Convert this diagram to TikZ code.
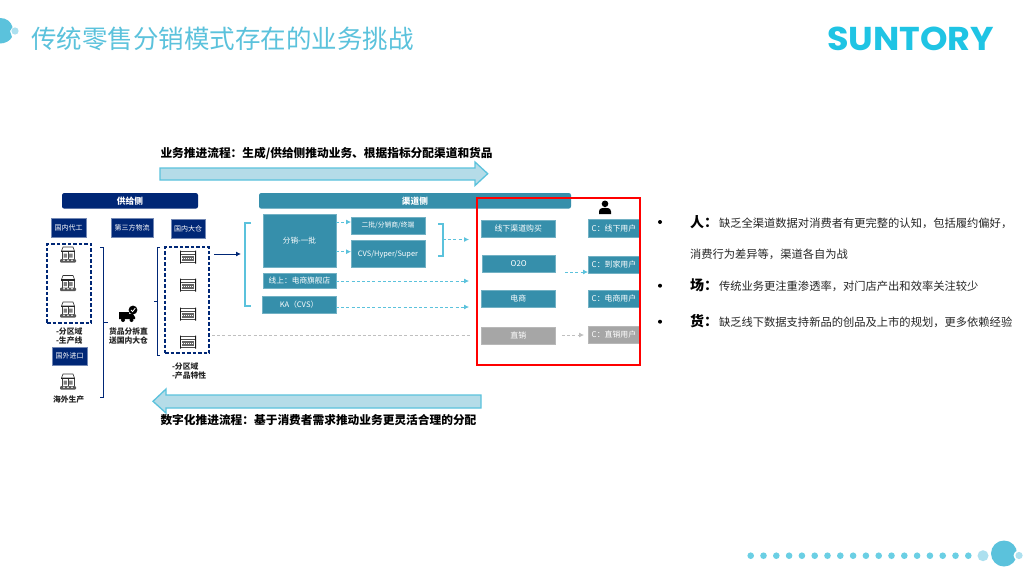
\documentclass[tikz,border=0pt]{standalone}
\usepackage{fontspec}
\setmainfont{Noto Sans CJK SC}
\newfontfamily\logofont{Poppins}
\usetikzlibrary{arrows.meta}
\definecolor{navy}{HTML}{002776}
\definecolor{tealc}{HTML}{368FAB}
\definecolor{sky}{HTML}{5BC2DC}
\definecolor{skyfill}{HTML}{B5DCE8}
\definecolor{dotblue}{HTML}{6BCFE4}
\definecolor{paleblue}{HTML}{ACE0EF}
\definecolor{logoblue}{HTML}{1FC4E4}
\definecolor{greybox}{HTML}{A6A6A6}
\newcommand\fs[1]{\fontsize{#1}{#1}\selectfont}
\tikzset{
  x=1pt,y=-1pt,
  every node/.style={inner sep=0pt,outer sep=0pt},
  cbox/.style={anchor=north west,align=center,text=white,font=\fs{7.9}},
  navybox/.style={cbox,fill=navy,draw=navy!55!white,line width=.5pt,font=\fs{7}},
  tealbox/.style={cbox,fill=tealc,draw=tealc!70!white,line width=.5pt},
  greyb/.style={cbox,fill=greybox,draw=greybox!80!white,line width=.5pt},
  headbar/.style={cbox,fill=#1,rounded corners=2.2pt,font=\fs{8.7}\bfseries},
  dashbox/.style={draw=navy,line width=1.2pt,dash pattern=on 3.5pt off 2pt},
  navybr/.style={draw=navy,line width=1pt},
  skybr/.style={draw=sky,line width=1.2pt},
  dasharrow/.style={draw=sky,line width=.8pt,dash pattern=on 3pt off 2.2pt,-{Latex[length=5pt,width=5pt]}},
  greydash/.style={draw=black!25,line width=.6pt,dash pattern=on 3pt off 2.2pt},
  flowarrow/.style={draw=sky,fill=skyfill,line width=1.3pt},
  captext/.style={font=\fs{7.8}\bfseries,align=left,text=black!85},
  headtext/.style={font=\fs{11.7}\bfseries,anchor=west,text=black},
  bodytext/.style={font=\fs{11.28},anchor=west,text=black!85},
  bigtext/.style={font=\fs{14}\bfseries,anchor=west,text=black},
  bulletdot/.style={circle,fill=black,minimum size=4pt},
  factory/.pic={
    \draw[black!80,line width=.6pt] (-5,-8) -- (5,-8) -- (6.5,-4) -- (-6.5,-4) -- cycle;
    \fill[black!85] (-7,-4.5) rectangle (7,-2.8);
    \draw[black!75,line width=.7pt] (-6,-2.8) -- (-6,4.5) (6,-2.8) -- (6,4.5) (0,-2.8) -- (0,4.5);
    \fill[black!50] (-4.5,-1.5) rectangle (-1.2,2.5) (1.2,-1.5) rectangle (4.5,2.5);
    \fill[black!65,rounded corners=1pt] (-8,4.2) rectangle (8,7.6);
    \fill[white] (-4,5.2) circle (.8) (0,5.2) circle (.8) (4,5.2) circle (.8);
  },
  store/.pic={
    \fill[black!90] (-8,-6.5) rectangle (-7.2,6.5) (7.2,-6.5) rectangle (8,6.5);
    \draw[black!70,line width=.7pt] (-7,-5.6) -- (7,-5.6) (-7,-2.6) -- (7,-2.6) (-7,5.2) -- (7,5.2);
    \fill[black!60] (-6.3,-1) rectangle (6.3,3.8);
    \draw[white,line width=.5pt,dash pattern=on 1pt off 1pt] (-6.3,1.2) -- (6.3,1.2);
  },
  truck/.pic={
    \fill[black] (-9,-3) rectangle (1,4) (1,-1) -- (5,-1) -- (7,2) -- (7,4) -- (1,4) -- cycle;
    \fill[black] (-5,5) circle (2) (3.5,5) circle (2);
    \fill[black] (5,-5) circle (4.4);
    \draw[white,line width=.8pt] (3,-5) -- (4.6,-3.4) -- (7.2,-6.8);
  },
  person/.pic={
    \fill[black] (0,-3.2) circle (3.3);
    \fill[black] (-6,7) -- (-6,4.5) .. controls (-5.5,1) and (-3,.8) .. (0,.8) .. controls (3,.8) and (5.5,1) .. (6,4.5) -- (6,7) -- cycle;
  }
}
\begin{document}
\begin{tikzpicture}
\useasboundingbox[fill=white] (0,0) rectangle (1024,576);
% top-left mark
\fill[sky] (0,18) .. controls (7,18) and (11,22) .. (12.5,27) -- (10,31) -- (12,37) .. controls (10,41) and (5,43.5) .. (0,43.5) -- cycle;
\fill[paleblue] (15,31) circle (3.6);
\node[anchor=west,text=sky,font=\fs{25.5}] (title) at (31,38.5) {传统零售分销模式存在的业务挑战};
% logo
\node[anchor=center,text=logoblue,font=\logofont\bfseries\fs{33}] (logo) at (910.5,38.5) {\scalebox{1.06}[1]{SUNTORY}};
% bottom dots
\foreach \i in {0,...,17} \fill[dotblue] (750.7+12.8*\i,555.7) circle (3.3);
\fill[paleblue] (983,555.7) circle (5.5);
\fill[sky] (1004,553.5) circle (13);
\fill[white] (1018.5,555.5) circle (5);
\fill[paleblue] (1019,555.5) circle (3.6);
% flow arrows
\node[headtext] (t1) at (160.5,153) {业务推进流程：生成/供给侧推动业务、根据指标分配渠道和货品};
\draw[flowarrow] (160,168) -- (475,168) -- (475,162) -- (487.7,173.7) -- (475,185.5) -- (475,180) -- (160,180) -- cycle;
\draw[flowarrow] (481,395) -- (166,395) -- (166,389) -- (153,401.3) -- (166,413) -- (166,408) -- (481,408) -- cycle;
\node[headtext] (t2) at (160.5,420) {数字化推进流程：基于消费者需求推动业务更灵活合理的分配};
% supply side
\node[headbar=navy,minimum width=136pt,minimum height=15.6pt] (supply) at (62,193) {供给侧};
\node[navybox,minimum width=35pt,minimum height=19pt] (n1) at (51,218.5) {国内代工};
\node[navybox,minimum width=42pt,minimum height=19pt] (n2) at (111,218.5) {第三方物流};
\node[navybox,minimum width=34pt,minimum height=19pt] (n3) at (171,219) {国内大仓};
\node[navybox,minimum width=35pt,minimum height=18.5pt] (n4) at (52,347) {国外进口};
\node[anchor=north west,dashbox,minimum width=44pt,minimum height=79pt] (db1) at (47,244) {};
\node[anchor=north west,dashbox,minimum width=44pt,minimum height=106pt] (db2) at (165,247) {};
\foreach \y in {255,283.5,310,382} \pic at (68,\y) {factory};
\foreach \y in {257,285,314,342} \pic at (188,\y) {store};
\pic at (128,315) {truck};
\node[captext,anchor=west] (c1) at (56,336) {-分区域\\[1pt]-生产线};
\node[captext,anchor=west] (c2) at (109,336) {货品分拆直\\[1pt]送国内大仓};
\node[captext,anchor=west] (c3) at (172,371) {-分区域\\[1pt]-产品特性};
\node[captext,anchor=west] (c4) at (53,400) {海外生产};
\draw[navybr] (100,247.5) -- (103,247.5) -- (103,397.5) -- (100,397.5) (103,322.5) -- (108,322.5);
\draw[navybr] (160,247.5) -- (157,247.5) -- (157,355) -- (160,355) (157,301) -- (154,301);
\coordinate (arrowstart) at (214,254);
\coordinate (arrowend) at (241,254);
\draw[draw=navy,line width=.9pt,-{Latex[length=5pt,width=5pt]}] (arrowstart) -- (arrowend);
% channel side
\node[headbar=tealc,minimum width=312pt,minimum height=15.6pt] (channel) at (259,193) {渠道侧};
\draw[skybr] (251,223) -- (245,223) -- (245,306) -- (251,306);
\node[tealbox,minimum width=73pt,minimum height=53pt,font=\fs{7.6}] (d1) at (263,214) {分销-一批};
\node[tealbox,minimum width=74pt,minimum height=17pt,font=\fs{6.8}] (d2) at (351,217) {二批/分销商/终端};
\node[tealbox,minimum width=74pt,minimum height=27pt,font=\fs{7.4}] (d3) at (351,240.5) {CVS/Hyper/Super};
\node[tealbox,minimum width=73pt,minimum height=15pt,font=\fs{7.7}] (d4) at (263,273) {线上：电商旗舰店};
\node[tealbox,minimum width=74pt,minimum height=17pt,font=\fs{7.6}] (d5) at (262,296) {KA（CVS）};
\draw[dasharrow] (d1.east |- 0,222) -- (d2.west |- 0,222);
\draw[dasharrow] (d1.east |- 0,251.7) -- (d3.west |- 0,251.7);
\draw[skybr] (438,224) -- (443,224) -- (443,256) -- (438,256);
\coordinate (e0) at (443,239.5);
\coordinate (e1) at (469,239.5);
\coordinate (e2) at (469,281);
\coordinate (e3) at (469,307);
\coordinate (e4) at (470,335);
\coordinate (g4) at (212,335);
\draw[dasharrow] (e0) -- (e1);
\draw[dasharrow] (d4.east |- e2) -- (e2);
\draw[dasharrow] (d5.east |- e3) -- (e3);
\draw[greydash] (g4) -- (e4);
% channels and users
\node[tealbox,minimum width=73.5pt,minimum height=17pt] (m1) at (481.5,220) {线下渠道购买};
\node[tealbox,minimum width=73.5pt,minimum height=17pt] (m2) at (482,255) {O2O};
\node[tealbox,minimum width=73.5pt,minimum height=17pt] (m3) at (481.5,290) {电商};
\node[greyb,minimum width=73.5pt,minimum height=16.5pt] (m4) at (481.5,327.5) {直销};
\node[tealbox,minimum width=52pt,minimum height=17.5pt] (u1) at (588,219.5) {C：线下用户};
\node[tealbox,minimum width=52pt,minimum height=17.5pt] (u2) at (588,256) {C：到家用户};
\node[tealbox,minimum width=52pt,minimum height=17pt] (u3) at (588,290) {C：电商用户};
\node[greyb,minimum width=52pt,minimum height=17pt] (u4) at (588,326) {C：直销用户};
\coordinate (o1) at (565,272);
\coordinate (z1) at (562,335);
\coordinate (z2) at (584,335);
\draw[dasharrow] (o1) -- (u2.west |- o1);
\draw[dasharrow,draw=black!25] (z1) -- (z2);
\pic at (605,207) {person};
\draw[draw=red,line width=1.2pt] (477,198) rectangle (640,365);
% right text
\node[bulletdot] (b1) at (660,222) {};
\node[bulletdot] (b2) at (660,285.7) {};
\node[bulletdot] (b3) at (660,321.7) {};
\node[bigtext] (p1) at (690,222) {人：};
\node[bodytext] (p1t) at (719,223) {缺乏全渠道数据对消费者有更完整的认知，包括履约偏好，};
\node[bodytext] (p1u) at (690,254) {消费行为差异等，渠道各自为战};
\node[bigtext] (p2) at (690,285.5) {场：};
\node[bodytext] (p2t) at (719,286.5) {传统业务更注重渗透率，对门店产出和效率关注较少};
\node[bigtext] (p3) at (690,321.5) {货：};
\node[bodytext] (p3t) at (719,322.5) {缺乏线下数据支持新品的创品及上市的规划，更多依赖经验};
\end{tikzpicture}
\end{document}
